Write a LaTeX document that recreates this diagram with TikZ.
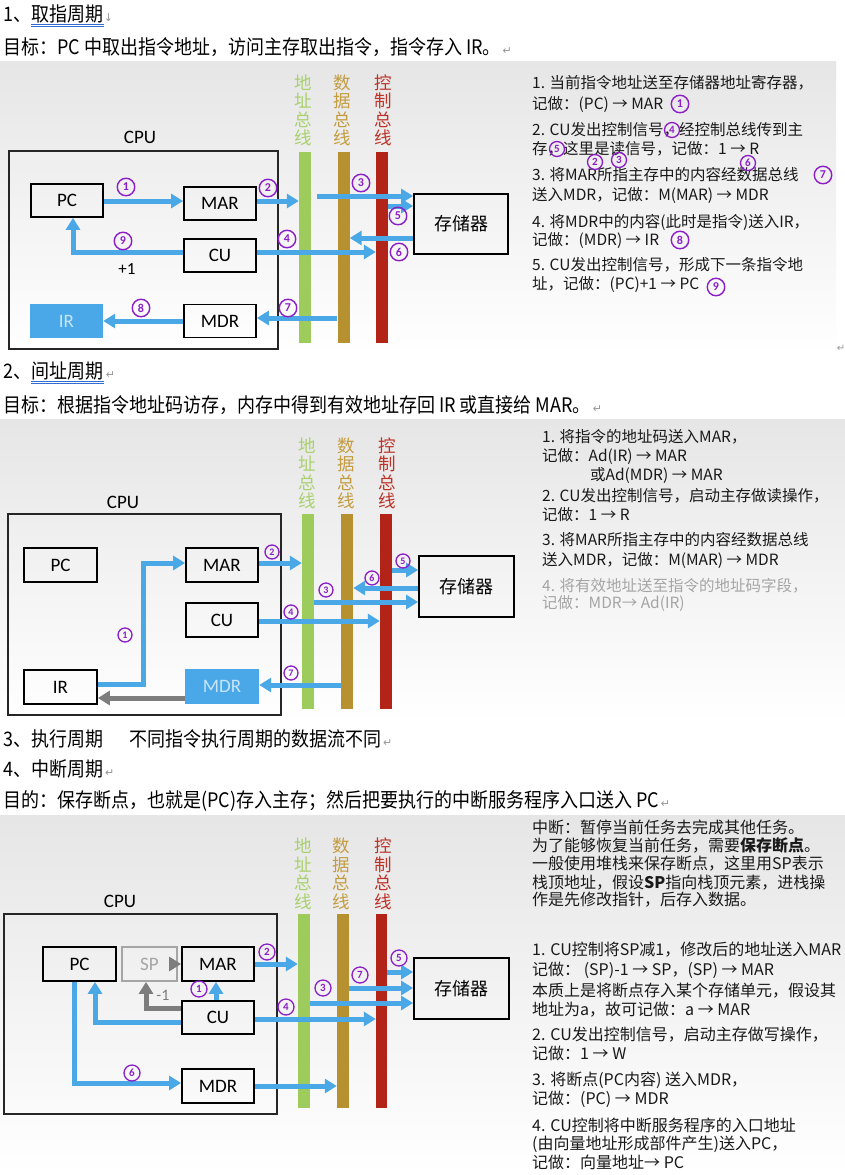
\documentclass[tikz,border=0pt]{standalone}
\usepackage{fontspec}
\usetikzlibrary{arrows.meta}
\setmainfont{Noto Sans CJK SC}
\newfontfamily\hdfont[FakeStretch=0.9]{Noto Sans CJK SC}
\newfontfamily\latfont{Carlito}
\newfontfamily\symfont{DejaVu Sans}

\definecolor{flowblue}{RGB}{75,168,230}
\definecolor{irblue}{RGB}{74,168,232}
\definecolor{irtext}{RGB}{200,228,248}
\definecolor{busgreen}{RGB}{158,204,92}
\definecolor{busgold}{RGB}{183,145,48}
\definecolor{busred}{RGB}{178,36,24}
\definecolor{lblgreen}{RGB}{168,208,110}
\definecolor{lblgold}{RGB}{196,156,64}
\definecolor{lblred}{RGB}{190,50,40}
\definecolor{markpurple}{RGB}{140,30,200}
\definecolor{markgray}{RGB}{150,150,150}
\definecolor{panelgray}{RGB}{230,230,230}
\definecolor{softgray}{RGB}{165,165,165}
\definecolor{arrowgray}{RGB}{125,125,125}
\definecolor{ulblue}{RGB}{50,110,210}
\definecolor{inkgray}{RGB}{25,25,25}

\newcommand\parmark{{\symfont\fontsize{11}{11}\selectfont\color{markgray}\,↵}}
\newcommand\downmark{{\symfont\fontsize{11}{11}\selectfont\color{markgray}↓}}

\tikzset{
  hd/.style={anchor=base west, inner sep=0, font=\hdfont\fontsize{20}{24}\selectfont},
  uline/.style={draw=ulblue, line width=0.8pt},
  pa/.style={anchor=base west, inner sep=0, yshift=-5.9pt, text=inkgray, font=\fontsize{15.5}{18}\selectfont},
  pb/.style={anchor=base west, inner sep=0, yshift=-6.1pt, text=inkgray, font=\fontsize{16}{18}\selectfont},
  unitbox/.style={draw=black, line width=1.8pt, minimum width=72pt, minimum height=33pt, inner sep=0, font=\latfont\fontsize{19}{19}\selectfont},
  spbox/.style={unitbox, draw=softgray, text=softgray, minimum width=55pt},
  fillbox/.style={fill=irblue, text=irtext, minimum width=73pt, minimum height=34pt, inner sep=0, font=\latfont\fontsize{19}{19}\selectfont},
  cpubox/.style={draw=black!85, line width=1.6pt, inner sep=0},
  cpulbl/.style={inner sep=0, font=\latfont\fontsize{19}{19}\selectfont},
  membox/.style={draw=black, line width=1.8pt, inner sep=0, font=\fontsize{18}{18}\selectfont},
  bus/.style={inner sep=0, minimum width=12pt},
  buslbl/.style={inner sep=0, align=center, font=\fontsize{17.5}{18.5}\selectfont},
  flow/.style={draw=flowblue, line width=5pt, -{Triangle[length=12pt,width=14pt]}},
  flowgray/.style={flow, draw=arrowgray},
  num/.style={circle, draw=markpurple, line width=1.3pt, text=markpurple, inner sep=0pt, minimum size=16pt, font=\latfont\bfseries\fontsize{11}{11}\selectfont},
  numbig/.style={num, minimum size=17.5pt, line width=1.4pt, font=\latfont\bfseries\fontsize{12}{12}\selectfont},
  nummid/.style={num, minimum size=15pt, line width=1.3pt, font=\latfont\bfseries\fontsize{11}{11}\selectfont},
  numsmall/.style={num, minimum size=14pt, font=\latfont\bfseries\fontsize{10}{10}\selectfont},
  gtext/.style={inner sep=0, text=arrowgray, font=\latfont\fontsize{16}{16}\selectfont},
  plain/.style={inner sep=0, font=\latfont\fontsize{17}{17}\selectfont}
}

\begin{document}
\begin{tikzpicture}[x=1pt,y=-1pt]
\useasboundingbox (0,0) rectangle (845,1175);
\fill[white] (0,0) rectangle (845,1175);

% ================= 1. fetch cycle =================
\node[hd] (h1a) at (3,21.5) {1、};
\node[hd] (h1b) at (h1a.base east) {取指周期};
\node[hd] (h1c) at (h1b.base east) {\downmark};
\draw[uline] ([yshift=-2.5pt]h1b.base west) -- ([yshift=-2.5pt]h1b.base east);
\draw[uline] ([yshift=-4.8pt]h1b.base west) -- ([yshift=-4.8pt]h1b.base east);
\node[hd] (h1d) at (3,54.5) {目标：PC 中取出指令地址，访问主存取出指令，指令存入 IR。\parmark};

\shade[top color=panelgray, bottom color=white] (0,61) rectangle (836,355);
\node[inner sep=0, font=\symfont\fontsize{10}{10}\selectfont, text=markgray] (e1) at (841,348) {↵};

% bus labels and buses
\node[buslbl, text=lblgreen] (t1a) at (303,110.5) {地\\址\\总\\线};
\node[buslbl, text=lblgold] (t1b) at (342,110.5) {数\\据\\总\\线};
\node[buslbl, text=lblred] (t1c) at (383,110.5) {控\\制\\总\\线};
\node[bus, fill=busgreen, minimum height=191pt] (ab1) at (305,247.5) {};
\node[bus, fill=busgold, minimum height=191pt] (db1) at (343.5,247.5) {};
\node[bus, fill=busred, minimum height=191pt] (cb1) at (382,247.5) {};

% CPU and memory
\node[cpulbl] (cl1) at (140,137) {CPU};
\node[cpubox, minimum width=269pt, minimum height=198pt] (cpu1) at (143.5,250) {};
\node[unitbox] (pc1) at (67,200.5) {PC};
\node[unitbox] (mar1) at (220,203.5) {MAR};
\node[unitbox] (cu1) at (220,255.5) {CU};
\node[fillbox] (ir1) at (66.5,321) {IR};
\node[unitbox] (mdr1) at (220,321) {MDR};
\node[membox, minimum width=94pt, minimum height=60pt] (mem1) at (461,224) {存储器};

% data flow
\coordinate (f1) at (0,201);
\coordinate (f3) at (0,196);
\coordinate (f5) at (0,206);
\coordinate (f6) at (0,238);
\coordinate (f4) at (0,252);
\coordinate (k9) at (73,252);
\coordinate (f7) at (0,318);
\coordinate (f8) at (0,321);
\coordinate (s3) at ([xshift=6pt]ab1.east);
\draw[flow] (pc1.east |- f1) -- (mar1.west |- f1);
\draw[flow] (mar1.east |- f1) -- (ab1.west |- f1);
\draw[flow] (s3 |- f3) -- (mem1.west |- f3);
\draw[flow] (cb1.east |- f5) -- (mem1.west |- f5);
\draw[flow] (mem1.west |- f6) -- (db1.east |- f6);
\draw[flow] (cu1.east |- f4) -- (cb1.west |- f4);
\draw[flow] (cu1.west |- k9) -- (k9) -- (k9 |- pc1.south);
\draw[flow] (db1.west |- f7) -- (mdr1.east |- f7);
\draw[flow] (mdr1.west |- f8) -- (ir1.east |- f8);
\node[plain] (p1) at (127,269) {+1};

\node[numbig] (c1a) at (126,187) {1};
\node[numbig] (c1b) at (268,188) {2};
\node[numbig] (c1c) at (361,183) {3};
\node[numbig] (c1d) at (287,239) {4};
\node[numbig] (c1e) at (398,216) {5};
\node[numbig] (c1f) at (399,252) {6};
\node[numbig] (c1g) at (288,308) {7};
\node[numbig] (c1h) at (141,308) {8};
\node[numbig] (c1i) at (123,241) {9};

% notes
\node[pa] (a1) at (532,83) {1. 当前指令地址送至存储器地址寄存器，};
\node[pa] (a2) at (532,104) {记做：(PC) → MAR};
\node[pa] (a3) at (532,130) {2. CU发出控制信号，经控制总线传到主};
\node[pa] (a4) at (532,149) {存，这里是读信号，记做：1 → R};
\node[pa] (a5) at (532,175) {3. 将MAR所指主存中的内容经数据总线};
\node[pa] (a6) at (532,195) {送入MDR，记做：M(MAR) → MDR};
\node[pa] (a7) at (532,222) {4. 将MDR中的内容(此时是指令)送入IR，};
\node[pa] (a8) at (532,240) {记做：(MDR) → IR};
\node[pa] (a9) at (532,265) {5. CU发出控制信号，形成下一条指令地};
\node[pa] (a10) at (532,284) {址，记做：(PC)+1 → PC};
\node[numbig] (m1) at (680,104) {1};
\node[nummid] (m4) at (672,130) {4};
\node[nummid] (m5) at (557,149) {5};
\node[nummid] (m2) at (595,162) {2};
\node[nummid] (m3) at (619,160) {3};
\node[nummid] (m6) at (748,163) {6};
\node[numbig] (m7) at (823,175) {7};
\node[numbig] (m8) at (680,240) {8};
\node[numbig] (m9) at (716,287) {9};

% ================= 2. indirect cycle =================
\node[hd] (h2a) at (3,378.5) {2、};
\node[hd] (h2b) at (h2a.base east) {间址周期};
\node[hd] (h2c) at (h2b.base east) {\parmark};
\draw[uline] ([yshift=-2.5pt]h2b.base west) -- ([yshift=-2.5pt]h2b.base east);
\draw[uline] ([yshift=-4.8pt]h2b.base west) -- ([yshift=-4.8pt]h2b.base east);
\node[hd] (h2d) at (3,412.5) {目标：根据指令地址码访存，内存中得到有效地址存回 IR 或直接给 MAR。\parmark};

\shade[top color=panelgray, bottom color=white] (0,419) rectangle (845,722);

\node[buslbl, text=lblgreen] (t2a) at (307,473.5) {地\\址\\总\\线};
\node[buslbl, text=lblgold] (t2b) at (346,473.5) {数\\据\\总\\线};
\node[buslbl, text=lblred] (t2c) at (387,473.5) {控\\制\\总\\线};
\node[bus, fill=busgreen, minimum height=195pt] (ab2) at (308,611.5) {};
\node[bus, fill=busgold, minimum height=195pt] (db2) at (347,611.5) {};
\node[bus, fill=busred, minimum height=195pt] (cb2) at (386,611.5) {};

\node[cpulbl] (cl2) at (123,502) {CPU};
\node[cpubox, minimum width=273pt, minimum height=201pt] (cpu2) at (144.5,614.5) {};
\node[unitbox, minimum width=73pt, minimum height=34pt] (pc2) at (60.5,565) {PC};
\node[unitbox, minimum width=72pt, minimum height=34pt] (mar2) at (222,565) {MAR};
\node[unitbox, minimum width=72pt, minimum height=34pt] (cu2) at (222,620) {CU};
\node[unitbox, minimum width=73pt, minimum height=34pt] (ir2) at (60.5,687) {IR};
\node[fillbox, minimum width=74pt, minimum height=35pt] (mdr2) at (222,686.5) {MDR};
\node[membox, minimum width=95pt, minimum height=61pt] (mem2) at (466.5,586.5) {存储器};

\coordinate (g1) at (143,684);
\coordinate (g2) at (0,563);
\coordinate (g5) at (0,570);
\coordinate (g6) at (0,588);
\coordinate (g3) at (0,602);
\coordinate (g4) at (0,621);
\coordinate (g7) at (0,685);
\coordinate (g8) at (0,698);
\draw[flow] (ir2.east |- g1) -- (g1) -- (g1 |- g2) -- (mar2.west |- g2);
\draw[flow] (mar2.east |- g2) -- (ab2.west |- g2);
\draw[flow] (cb2.east |- g5) -- (mem2.west |- g5);
\draw[flow] (mem2.west |- g6) -- (db2.east |- g6);
\draw[flow] (ab2.east |- g3) -- (mem2.west |- g3);
\draw[flow] (cu2.east |- g4) -- (cb2.west |- g4);
\draw[flow] (db2.west |- g7) -- (mdr2.east |- g7);
\draw[flowgray] (mdr2.west |- g8) -- (ir2.east |- g8);

\node[numsmall] (c2a) at (125,635) {1};
\node[numsmall] (c2b) at (272,552) {2};
\node[numsmall] (c2c) at (326,590) {3};
\node[numsmall] (c2d) at (291,612) {4};
\node[numsmall] (c2e) at (403,561) {5};
\node[numsmall] (c2f) at (372,578) {6};
\node[numsmall] (c2g) at (291,673) {7};

\node[pa] (b1) at (542,437) {1. 将指令的地址码送入MAR，};
\node[pa] (b2) at (542,456) {记做：Ad(IR) → MAR};
\node[pa] (b3) at (590,475) {或Ad(MDR) → MAR};
\node[pa] (b4) at (542,496) {2. CU发出控制信号，启动主存做读操作，};
\node[pa] (b5) at (542,515) {记做：1 → R};
\node[pa] (b6) at (542,540) {3. 将MAR所指主存中的内容经数据总线};
\node[pa] (b7) at (542,560) {送入MDR，记做：M(MAR) → MDR};
\node[pa, text=softgray] (b8) at (542,586) {4. 将有效地址送至指令的地址码字段，};
\node[pa, text=softgray] (b9) at (542,603) {记做：MDR→ Ad(IR)};

% ================= 3. execute cycle =================
\node[hd] (h3a) at (3,746.5) {3、执行周期};
\node[hd] (h3b) at (129,746.5) {不同指令执行周期的数据流不同\parmark};

% ================= 4. interrupt cycle =================
\node[hd] (h4a) at (3,776.5) {4、中断周期\parmark};
\node[hd] (h4b) at (3,807.5) {目的：保存断点，也就是(PC)存入主存；然后把要执行的中断服务程序入口送入 PC\parmark};

\shade[top color=panelgray, bottom color=white] (0,815) rectangle (845,1175);

\node[buslbl, text=lblgreen] (t4a) at (303,874) {地\\址\\总\\线};
\node[buslbl, text=lblgold] (t4b) at (341,874) {数\\据\\总\\线};
\node[buslbl, text=lblred] (t4c) at (383,874) {控\\制\\总\\线};
\node[bus, fill=busgreen, minimum height=194pt] (ab4) at (304,1011) {};
\node[bus, fill=busgold, minimum height=194pt] (db4) at (343,1011) {};
\node[bus, fill=busred, minimum height=194pt, minimum width=11pt] (cb4) at (381.5,1011) {};

\node[cpulbl] (cl4) at (120,901) {CPU};
\node[cpubox, minimum width=273pt, minimum height=200pt] (cpu4) at (140.5,1014) {};
\node[unitbox, minimum width=73pt, minimum height=34pt] (pc4) at (79.5,964) {PC};
\node[spbox, minimum height=34pt] (sp4) at (149.5,964) {SP};
\node[unitbox, minimum width=72pt, minimum height=34pt] (mar4) at (218,964) {MAR};
\node[unitbox, minimum width=72pt, minimum height=33pt] (cu4) at (218,1017.5) {CU};
\node[unitbox, minimum width=72pt, minimum height=34pt] (mdr4) at (218,1086) {MDR};
\node[membox, minimum width=95pt, minimum height=61pt] (mem4) at (461.5,988.5) {存储器};

\coordinate (q0) at ([xshift=-9pt]sp4.east);
\coordinate (qs) at (146,1008);
\coordinate (qm) at (216,0);
\coordinate (q2) at (0,964);
\coordinate (q5) at (0,972);
\coordinate (q7) at (0,988);
\coordinate (q3) at (0,1003);
\coordinate (q4) at (0,1019);
\coordinate (qp) at (95,1022);
\coordinate (q6) at (74,1083);
\coordinate (qd) at (0,1086);
\draw[flowgray] (q0) -- (mar4.west |- q0);
\draw[flowgray] (cu4.west |- qs) -- (qs) -- (qs |- sp4.south);
\node[gtext] (d1) at (163,995) {-1};
\draw[flow] (cu4.north -| qm) -- (mar4.south -| qm);
\draw[flow] (mar4.east |- q2) -- (ab4.west |- q2);
\draw[flow] (cb4.east |- q5) -- (mem4.west |- q5);
\draw[flow] (db4.east |- q7) -- (mem4.west |- q7);
\draw[flow] (ab4.east |- q3) -- (mem4.west |- q3);
\draw[flow] (cu4.east |- q4) -- (cb4.west |- q4);
\draw[flow] (cu4.west |- qp) -- (qp) -- (qp |- pc4.south);
\draw[flow] (q6 |- pc4.south) -- (q6) -- (mdr4.west |- q6);
\draw[flow] (mdr4.east |- qd) -- (db4.west |- qd);

\node[num] (c4a) at (199,989) {1};
\node[num] (c4b) at (267,952) {2};
\node[num] (c4c) at (323,988) {3};
\node[num] (c4d) at (286,1007) {4};
\node[num] (c4e) at (399,958) {5};
\node[num] (c4f) at (132,1073) {6};
\node[num] (c4g) at (360,975) {7};

\node[pb] (d2) at (532,827) {中断：暂停当前任务去完成其他任务。};
\node[pb] (d3) at (532,845) {为了能够恢复当前任务，需要{\bfseries 保存断点}。};
\node[pb] (d4) at (532,863) {一般使用堆栈来保存断点，这里用SP表示};
\node[pb] (d5) at (532,882) {栈顶地址，假设{\bfseries SP}指向栈顶元素，进栈操};
\node[pb] (d6) at (532,899) {作是先修改指针，后存入数据。};
\node[pb] (d7) at (532,949) {1. CU控制将SP减1，修改后的地址送入MAR};
\node[pb] (d8) at (532,969) {记做： (SP)-1 → SP，(SP) → MAR};
\node[pb] (d9) at (532,990) {本质上是将断点存入某个存储单元，假设其};
\node[pb] (d10) at (532,1009) {地址为a，故可记做：a → MAR};
\node[pb] (d11) at (532,1034) {2. CU发出控制信号，启动主存做写操作，};
\node[pb] (d12) at (532,1053) {记做：1 → W};
\node[pb] (d13) at (532,1079) {3. 将断点(PC内容) 送入MDR，};
\node[pb] (d14) at (532,1098) {记做：(PC) → MDR};
\node[pb] (d15) at (532,1125) {4. CU控制将中断服务程序的入口地址};
\node[pb] (d16) at (532,1143) {(由向量地址形成部件产生)送入PC，};
\node[pb] (d17) at (532,1162) {记做：向量地址→ PC};
\end{tikzpicture}
\end{document}
